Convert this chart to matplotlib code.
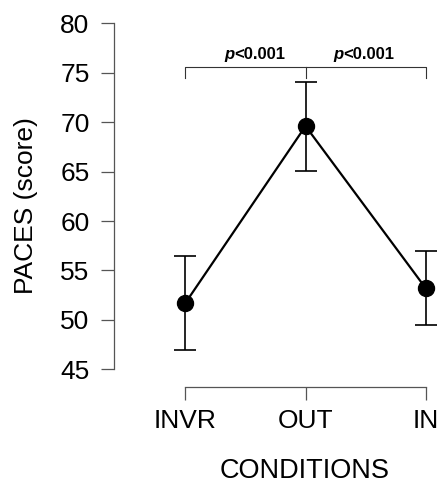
import numpy as np
import matplotlib
matplotlib.use("Agg")
import matplotlib.pyplot as plt

plt.rcParams['font.family'] = ['Liberation Sans', 'DejaVu Sans']

# data
conditions = ["INVR", "OUT", "IN"]
means = [51.7, 69.6, 53.2]
err_upper = [56.5, 74.1, 57.0]
err_lower = [47.0, 65.1, 49.5]
pvals = ["<0.001", "<0.001"]

x = np.arange(len(conditions))
yerr = [np.array(means) - np.array(err_lower), np.array(err_upper) - np.array(means)]

fig = plt.figure(figsize=(4.41, 4.83), dpi=100)
ax = fig.add_axes([113.7 / 441, 1 - 387.3 / 483, 1 - 113.7 / 441, (387.3 - 23.3) / 483])

ax.errorbar(x, means, yerr=yerr, fmt='none', ecolor='black', elinewidth=1.2,
            capsize=8, capthick=1.2)
ax.plot(x, means, '-', color='black', lw=1.6)
ax.plot(x, means, 'o', color='black', ms=11.5)

ax.set_xlim(-0.596, 2.127)
ax.set_ylim(43.18, 80)

# R-style axes
for s in ['top', 'right']:
    ax.spines[s].set_visible(False)
ax.spines['left'].set_bounds(45, 80)
ax.spines['bottom'].set_bounds(0, 2)
for s in ['left', 'bottom']:
    ax.spines[s].set_color('#555555')
    ax.spines[s].set_linewidth(0.9)

ax.set_yticks(np.arange(45, 81, 5))
ax.set_xticks(x)
ax.set_xticklabels(conditions)
ax.tick_params(axis='both', length=9.4, width=0.9, color='#555555', labelsize=19)
ax.tick_params(axis='y', pad=8)
ax.tick_params(axis='x', pad=6)

ax.set_xlabel("CONDITIONS", fontsize=19.5, va='center')
ax.xaxis.set_label_coords((305 - 113.7) / (441 - 113.7), -(471.5 - 387.3) / (387.3 - 23.3))
ax.set_ylabel("PACES (score)", fontsize=19, va='center')
ax.yaxis.set_label_coords(-(113.7 - 26) / (441 - 113.7), 0.5)

# significance brackets
by = 75.6
ax.plot([0, 0, 2, 2], [74.5, by, by, 74.5], color='#333333', lw=0.8)
ax.plot([1, 1], [by, 74.5], color='#333333', lw=0.8)
for xs, p in zip([0.405, 1.312], pvals):
    ax.text(xs, 76.35, "p", ha='right', va='baseline', fontsize=12,
            fontweight='bold', fontstyle='italic')
    ax.text(xs, 76.35, p, ha='left', va='baseline', fontsize=12, fontweight='bold')

fig.savefig("out.png", dpi=100)
